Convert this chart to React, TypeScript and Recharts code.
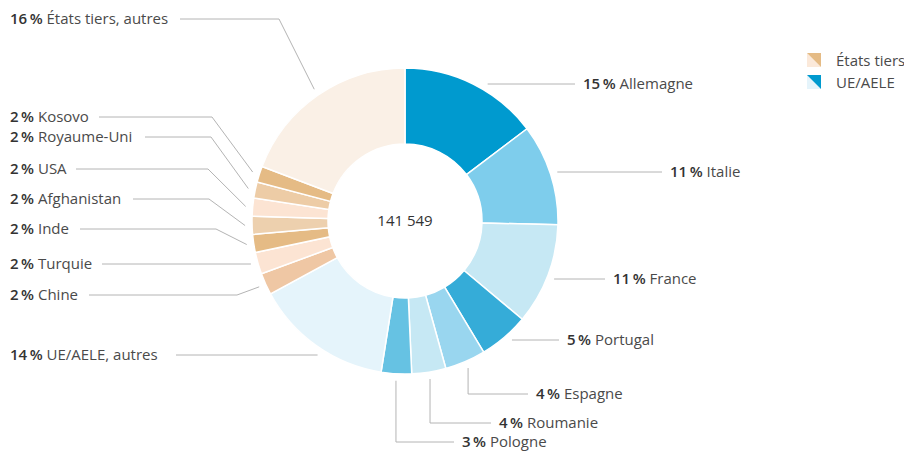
import { PieChart, Pie, Cell, Legend } from 'recharts'

// slices clockwise from 12 o'clock, shares as drawn (%)
const names = [
  'Allemagne', 'Italie', 'France', 'Portugal', 'Espagne', 'Roumanie', 'Pologne', 'UE/AELE, autres',
  'Chine', 'Turquie', 'Inde', 'Afghanistan', 'USA', 'Royaume-Uni', 'Kosovo', 'États tiers, autres',
]
const shares = [14.7, 10.7, 10.7, 5.3, 4.3, 3.6, 3.2, 14.6, 2.3, 2.3, 1.9, 1.9, 1.9, 1.7, 1.7, 19.2]
const pctLabels = ['15', '11', '11', '5', '4', '4', '3', '14', '2', '2', '2', '2', '2', '2', '2', '16']
const colors = [
  '#009acf', '#7ecdec', '#c6e8f4', '#35acd8', '#99d6ef', '#c6e8f4', '#66c2e3', '#e5f4fb',
  '#efc7a4', '#fce4d3', '#e5bb85', '#edd0ae', '#fce4d3', '#edcca6', '#e5bb85', '#faf0e6',
]
const total = '141 549'

const legendItems = [
  { label: 'États tiers', dark: '#e5bb85', light: '#fbe9da' },
  { label: 'UE/AELE', dark: '#009acf', light: '#e5f4fb' },
]

const data = names.map((name, i) => ({ name, value: shares[i], pct: pctLabels[i] }))

// leader line layout: y of label, kind of line, elbow x, end x of horizontal
type Lay = { y: number; kind: 'h' | 'v' | 'd'; ex?: number; x1: number; side: 'r' | 'l' }
const layout: Lay[] = [
  { y: 84, kind: 'h', x1: 575, side: 'r' },
  { y: 172, kind: 'h', x1: 662, side: 'r' },
  { y: 279, kind: 'h', x1: 605, side: 'r' },
  { y: 340, kind: 'h', x1: 559, side: 'r' },
  { y: 394, kind: 'v', x1: 528, side: 'r' },
  { y: 423, kind: 'v', x1: 491, side: 'r' },
  { y: 442, kind: 'v', x1: 454, side: 'r' },
  { y: 355, kind: 'h', x1: 176, side: 'l' },
  { y: 295, kind: 'd', ex: 237, x1: 89, side: 'l' },
  { y: 264, kind: 'h', x1: 102, side: 'l' },
  { y: 229, kind: 'd', ex: 216, x1: 80, side: 'l' },
  { y: 199, kind: 'd', ex: 209, x1: 133, side: 'l' },
  { y: 169, kind: 'd', ex: 208, x1: 76, side: 'l' },
  { y: 137, kind: 'd', ex: 211, x1: 145, side: 'l' },
  { y: 117, kind: 'd', ex: 212, x1: 99, side: 'l' },
  { y: 19, kind: 'd', ex: 279, x1: 180, side: 'l' },
]

const RAD = Math.PI / 180
const LINE_R = 160
const LEFT_TEXT_X = 10

const renderLabel = (props: any) => {
  const { cx, cy, midAngle, index } = props
  const lay = layout[index]
  const d = data[index]
  const sx = cx + LINE_R * Math.cos(-midAngle * RAD)
  const sy = cy + LINE_R * Math.sin(-midAngle * RAD)
  let pts: number[][]
  if (lay.kind === 'h') {
    const dy = lay.y - cy
    const dx = Math.sqrt(Math.max(LINE_R * LINE_R - dy * dy, 0))
    const x0 = lay.side === 'r' ? cx + dx : cx - dx
    pts = [[x0, lay.y], [lay.x1, lay.y]]
  } else if (lay.kind === 'v') {
    pts = [[sx, sy], [sx, lay.y], [lay.x1, lay.y]]
  } else {
    pts = [[sx, sy], [lay.ex as number, lay.y], [lay.x1, lay.y]]
  }
  const right = lay.side === 'r'
  return (
    <g key={`lbl-${index}`}>
      <polyline points={pts.map(p => p.join(',')).join(' ')} fill="none" stroke="#b4b4b4" strokeWidth={1} />
      <text
        x={right ? lay.x1 + 8 : LEFT_TEXT_X}
        y={lay.y}
        dy="0.35em"
        textAnchor="start"
        fontSize={15}
        fill="#4a4a4a"
      >
        <tspan fontWeight={600} fill="#333">{d.pct}{'\u2009'}%</tspan>
        <tspan> {d.name}</tspan>
      </text>
    </g>
  )
}

const renderLegend = () => (
  <div>
    {legendItems.map(item => (
      <div key={item.label} style={{ display: 'flex', alignItems: 'center', height: 22 }}>
        <svg width={14} height={14} style={{ marginRight: 15 }}>
          <polygon points="0,0 0,14 14,14" fill={item.light} />
          <polygon points="0,0 14,0 14,14" fill={item.dark} />
        </svg>
        <span style={{ fontSize: 15, color: '#4a4a4a' }}>{item.label}</span>
      </div>
    ))}
  </div>
)

export default function App() {
  return (
    <div style={{ position: 'absolute', left: 0, top: 0, fontFamily: '"Open Sans", sans-serif' }}>
      <PieChart width={904} height={452} margin={{ top: 0, right: 0, bottom: 0, left: 0 }}>
        <Pie
          data={data}
          dataKey="value"
          nameKey="name"
          cx={405}
          cy={221}
          innerRadius={77}
          outerRadius={153}
          startAngle={90}
          endAngle={-270}
          stroke="#fff"
          strokeWidth={1.5}
          label={renderLabel}
          labelLine={false}
          isAnimationActive={false}
        >
          {data.map((d, i) => (
            <Cell key={d.name} fill={colors[i]} />
          ))}
        </Pie>
        <text x={405} y={221} dy="0.35em" textAnchor="middle" fontSize={15} fill="#333">
          {total}
        </text>
        <Legend
          content={renderLegend}
          layout="vertical"
          verticalAlign="top"
          align="right"
          wrapperStyle={{ position: 'absolute', left: 807, top: 49, width: 100 }}
        />
      </PieChart>
    </div>
  )
}
